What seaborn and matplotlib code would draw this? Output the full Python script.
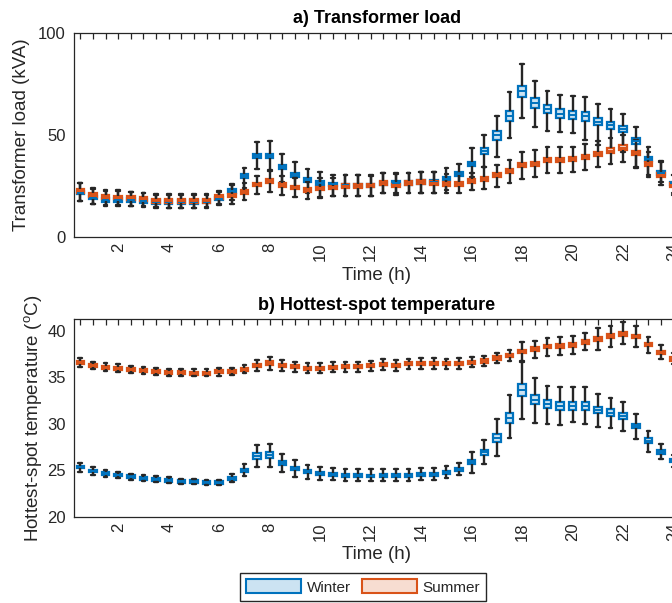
import numpy as np
import pandas as pd
import matplotlib
matplotlib.use("Agg")
import matplotlib.pyplot as plt
from matplotlib.patches import Patch
import seaborn as sns

# Half-hourly time slots (h)
times = [0.5 * k for k in range(1, 49)]

# ---- a) Transformer load (kVA) ----
load_winter_med = [21.8, 19.3, 18.3, 18.0, 18.3, 17.6, 17.2, 17.2, 17.2, 17.2, 17.4, 18.8,
                   22.5, 29.9, 39.8, 39.8, 34.3, 30.6, 28.1, 26.6, 25.8, 25.3, 25.2, 25.2,
                   26.3, 26.6, 26.4, 27.0, 27.0, 28.6, 31.0, 35.9, 42.2, 49.8, 59.5, 71.4,
                   65.5, 62.7, 60.5, 59.8, 59.3, 56.5, 54.8, 52.9, 47.2, 38.4, 31.4, 26.3]
load_winter_q1 = [20.9, 18.4, 17.4, 17.1, 17.4, 16.7, 16.3, 16.3, 16.3, 16.3, 16.5, 17.9,
                  21.5, 28.9, 38.7, 38.7, 33.2, 29.6, 27.1, 25.7, 24.9, 24.4, 24.3, 24.3,
                  25.4, 25.7, 25.5, 26.1, 26.1, 27.7, 30.0, 34.8, 40.6, 47.7, 57.1, 68.8,
                  63.0, 60.7, 58.4, 57.7, 57.1, 54.9, 53.1, 51.4, 45.7, 37.5, 30.4, 25.4]
load_winter_q3 = [22.7, 20.2, 19.2, 18.9, 19.2, 18.5, 18.1, 18.1, 18.1, 18.1, 18.3, 19.7,
                  23.5, 30.9, 40.9, 40.9, 35.4, 31.6, 29.1, 27.5, 26.7, 26.2, 26.1, 26.1,
                  27.2, 27.5, 27.3, 27.9, 27.9, 29.5, 32.0, 37.0, 43.8, 51.9, 61.9, 74.0,
                  68.0, 64.7, 62.6, 61.9, 61.5, 58.1, 56.5, 54.4, 48.7, 39.3, 32.4, 27.2]
load_winter_lo = [17.8, 16.0, 15.3, 15.0, 15.3, 14.8, 14.3, 14.2, 14.3, 14.0, 14.3, 15.5,
                  18.0, 24.0, 33.3, 32.8, 27.1, 23.9, 21.4, 19.8, 20.0, 20.0, 20.0, 20.1,
                  21.4, 21.4, 21.4, 21.8, 21.8, 23.0, 25.5, 29.6, 34.5, 39.4, 48.7, 58.2,
                  54.0, 52.0, 51.6, 50.8, 47.5, 45.0, 43.5, 41.8, 34.5, 30.4, 27.1, 21.5]
load_winter_hi = [26.6, 23.5, 22.5, 22.5, 22.0, 21.5, 20.8, 20.8, 20.8, 20.7, 20.8, 22.5,
                  26.0, 34.0, 46.4, 46.9, 40.8, 36.6, 33.5, 32.0, 30.4, 30.4, 30.4, 30.4,
                  31.2, 31.2, 31.5, 32.0, 32.0, 34.0, 35.8, 43.5, 50.0, 59.5, 71.2, 84.6,
                  76.5, 71.7, 69.6, 69.1, 68.5, 65.0, 62.6, 60.5, 53.8, 44.3, 37.3, 30.5]

load_summer_med = [22.5, 20.6, 19.6, 19.4, 19.1, 18.5, 17.6, 17.6, 17.6, 17.6, 17.8, 19.6,
                   20.3, 22.0, 25.7, 27.5, 25.5, 24.2, 23.2, 23.7, 24.3, 24.9, 25.0, 25.2,
                   26.5, 25.3, 26.6, 27.0, 26.6, 26.1, 26.1, 27.5, 28.4, 30.4, 32.4, 35.1,
                   35.9, 37.6, 37.7, 38.1, 39.4, 40.8, 42.3, 43.8, 41.2, 35.8, 30.2, 25.5]
load_summer_q1 = [21.6, 19.7, 18.7, 18.5, 18.2, 17.6, 16.7, 16.7, 16.7, 16.7, 16.9, 18.7,
                  19.4, 21.1, 24.8, 26.5, 24.6, 23.3, 22.3, 22.8, 23.4, 24.0, 24.1, 24.3,
                  25.6, 24.4, 25.7, 26.1, 25.7, 25.2, 25.2, 26.6, 27.4, 29.4, 31.4, 34.1,
                  34.9, 36.6, 36.7, 37.1, 38.4, 39.8, 41.2, 42.7, 40.2, 34.8, 29.2, 24.6]
load_summer_q3 = [23.4, 21.5, 20.5, 20.3, 20.0, 19.4, 18.5, 18.5, 18.5, 18.5, 18.7, 20.5,
                  21.2, 22.9, 26.6, 28.5, 26.4, 25.1, 24.1, 24.6, 25.2, 25.8, 25.9, 26.1,
                  27.4, 26.2, 27.5, 27.9, 27.5, 27.0, 27.0, 28.4, 29.4, 31.4, 33.4, 36.1,
                  36.9, 38.6, 38.7, 39.1, 40.4, 41.8, 43.4, 44.9, 42.2, 36.8, 31.2, 26.4]
load_summer_lo = [17.8, 16.3, 15.8, 15.5, 15.3, 15.0, 14.5, 14.3, 14.3, 14.2, 14.5, 16.0,
                  16.3, 18.0, 21.0, 21.9, 20.6, 19.6, 18.8, 19.3, 20.0, 20.0, 20.0, 20.3,
                  21.4, 20.6, 21.8, 21.8, 21.8, 21.8, 21.4, 23.0, 23.5, 24.7, 26.3, 28.3,
                  29.2, 31.2, 31.2, 31.7, 32.8, 34.5, 35.8, 36.9, 33.7, 29.6, 25.5, 20.6]
load_summer_hi = [26.6, 23.9, 23.0, 22.8, 22.3, 21.7, 21.0, 21.0, 21.0, 21.0, 21.3, 22.3,
                  25.5, 26.3, 29.9, 32.4, 29.9, 28.8, 27.1, 28.8, 28.8, 30.4, 30.4, 30.1,
                  31.2, 31.0, 31.2, 32.0, 32.0, 30.9, 30.7, 31.2, 34.5, 35.3, 37.7, 41.5,
                  42.6, 44.1, 44.1, 44.3, 45.6, 47.0, 48.4, 50.0, 47.5, 41.8, 36.6, 30.4]

# ---- b) Hottest-spot temperature (degC) ----
temp_winter_med = [25.35, 24.92, 24.67, 24.49, 24.31, 24.13, 24.02, 23.92, 23.81, 23.74, 23.70, 23.66,
                   24.10, 25.00, 26.57, 26.60, 25.78, 25.21, 24.85, 24.67, 24.56, 24.47, 24.42, 24.38,
                   24.45, 24.45, 24.45, 24.56, 24.56, 24.81, 25.10, 25.86, 26.93, 28.48, 30.60, 33.60,
                   32.57, 32.10, 31.92, 31.96, 31.96, 31.50, 31.20, 30.85, 29.77, 28.19, 26.97, 26.00]
temp_winter_q1 = [25.19, 24.76, 24.51, 24.33, 24.15, 23.97, 23.86, 23.76, 23.65, 23.58, 23.54, 23.50,
                  23.94, 24.82, 26.23, 26.27, 25.56, 25.05, 24.69, 24.51, 24.40, 24.31, 24.26, 24.22,
                  24.29, 24.29, 24.29, 24.40, 24.40, 24.65, 24.92, 25.66, 26.63, 28.05, 30.08, 32.94,
                  32.09, 31.67, 31.49, 31.53, 31.53, 31.14, 30.84, 30.54, 29.52, 27.96, 26.79, 25.84]
temp_winter_q3 = [25.51, 25.08, 24.83, 24.65, 24.47, 24.29, 24.18, 24.08, 23.97, 23.90, 23.86, 23.82,
                  24.26, 25.18, 26.91, 26.93, 26.00, 25.37, 25.01, 24.83, 24.72, 24.63, 24.58, 24.54,
                  24.61, 24.61, 24.61, 24.72, 24.72, 24.97, 25.28, 26.06, 27.23, 28.91, 31.12, 34.26,
                  33.05, 32.53, 32.35, 32.39, 32.39, 31.86, 31.56, 31.16, 30.02, 28.42, 27.15, 26.16]
temp_winter_lo = [24.85, 24.50, 24.30, 24.15, 24.00, 23.85, 23.75, 23.65, 23.55, 23.50, 23.45, 23.40,
                  23.72, 24.38, 25.38, 25.38, 24.85, 24.24, 24.10, 23.95, 23.95, 23.85, 23.85, 23.80,
                  23.85, 23.85, 23.85, 23.95, 23.95, 24.20, 24.45, 24.74, 25.68, 26.57, 28.44, 30.52,
                  30.12, 29.95, 29.88, 30.17, 29.95, 29.70, 29.59, 29.23, 28.37, 27.00, 26.20, 25.38]
temp_winter_hi = [25.82, 25.30, 25.05, 24.85, 24.65, 24.45, 24.35, 24.22, 24.10, 24.02, 23.98, 23.95,
                  24.55, 25.64, 27.69, 27.83, 26.75, 26.10, 25.60, 25.40, 25.20, 25.15, 25.10, 25.10,
                  25.10, 25.10, 25.10, 25.20, 25.20, 25.50, 25.80, 27.00, 28.26, 30.49, 33.10, 36.70,
                  34.90, 34.10, 33.94, 33.94, 33.94, 33.20, 32.82, 32.32, 31.03, 29.26, 27.83, 26.65]

temp_summer_med = [36.59, 36.26, 36.09, 36.00, 35.87, 35.76, 35.62, 35.55, 35.50, 35.44, 35.44, 35.62,
                   35.65, 35.87, 36.26, 36.55, 36.30, 36.12, 36.00, 36.00, 36.05, 36.12, 36.15, 36.23,
                   36.37, 36.26, 36.45, 36.50, 36.50, 36.45, 36.50, 36.63, 36.77, 37.06, 37.34, 37.77,
                   38.03, 38.31, 38.38, 38.52, 38.81, 39.14, 39.43, 39.71, 39.39, 38.52, 37.71, 36.98]
temp_summer_q1 = [36.43, 36.10, 35.93, 35.84, 35.71, 35.60, 35.46, 35.39, 35.34, 35.28, 35.28, 35.46,
                  35.49, 35.71, 36.08, 36.35, 36.12, 35.96, 35.84, 35.84, 35.89, 35.96, 35.99, 36.07,
                  36.21, 36.10, 36.29, 36.34, 36.34, 36.29, 36.34, 36.45, 36.59, 36.86, 37.14, 37.57,
                  37.83, 38.11, 38.18, 38.32, 38.61, 38.94, 39.23, 39.49, 39.19, 38.34, 37.53, 36.80]
temp_summer_q3 = [36.75, 36.42, 36.25, 36.16, 36.03, 35.92, 35.78, 35.71, 35.66, 35.60, 35.60, 35.78,
                  35.81, 36.03, 36.44, 36.75, 36.48, 36.28, 36.16, 36.16, 36.21, 36.28, 36.31, 36.39,
                  36.53, 36.42, 36.61, 36.66, 36.66, 36.61, 36.66, 36.81, 36.95, 37.26, 37.54, 37.97,
                  38.23, 38.51, 38.58, 38.72, 39.01, 39.34, 39.63, 39.93, 39.59, 38.70, 37.89, 37.16]
temp_summer_lo = [36.10, 35.85, 35.70, 35.60, 35.50, 35.40, 35.25, 35.20, 35.15, 35.10, 35.10, 35.20,
                  35.25, 35.45, 35.70, 35.80, 35.70, 35.60, 35.50, 35.50, 35.55, 35.60, 35.60, 35.70,
                  35.80, 35.70, 35.90, 35.95, 35.95, 35.90, 35.95, 36.10, 36.25, 36.50, 36.75, 36.80,
                  37.10, 37.30, 37.40, 37.55, 37.95, 37.95, 38.24, 38.60, 38.24, 37.60, 37.00, 36.40]
temp_summer_hi = [37.06, 36.70, 36.50, 36.40, 36.25, 36.15, 36.00, 35.95, 35.90, 35.85, 35.85, 36.05,
                  36.05, 36.35, 36.88, 37.20, 36.88, 36.70, 36.55, 36.55, 36.60, 36.65, 36.70, 36.75,
                  36.95, 36.85, 37.00, 37.05, 37.05, 37.00, 37.05, 37.20, 37.35, 37.65, 37.95, 38.78,
                  38.95, 39.28, 39.35, 39.50, 39.75, 40.30, 40.57, 40.93, 40.57, 39.39, 38.50, 37.60]

seasons = ["Winter", "Summer"]
edge_colors = {"Winter": "#0072BD", "Summer": "#D95319"}
fill_colors = {"Winter": "#CCE3F2", "Summer": "#F7DDD1"}
whisker_color = "#262626"


def five_number_frame(lo, q1, med, q3, hi):
    """Long table with the five summary values of every half-hour slot."""
    rows = []
    for t, a, b, c, d, e in zip(times, lo, q1, med, q3, hi):
        for v in (a, b, c, d, e):
            rows.append({"time": t, "value": v})
    return pd.DataFrame(rows)


panels = [
    {
        "title": "a) Transformer load",
        "ylabel": "Transformer load (kVA)",
        "ylim": (0, 100),
        "yticks": [0, 50, 100],
        "Winter": (load_winter_lo, load_winter_q1, load_winter_med, load_winter_q3, load_winter_hi),
        "Summer": (load_summer_lo, load_summer_q1, load_summer_med, load_summer_q3, load_summer_hi),
    },
    {
        "title": "b) Hottest-spot temperature",
        "ylabel": r"Hottest-spot temperature ($^{\mathrm{o}}$C)",
        "ylim": (20, 41.25),
        "yticks": [20, 25, 30, 35, 40],
        "Winter": (temp_winter_lo, temp_winter_q1, temp_winter_med, temp_winter_q3, temp_winter_hi),
        "Summer": (temp_summer_lo, temp_summer_q1, temp_summer_med, temp_summer_q3, temp_summer_hi),
    },
]

sns.set_theme(style="white")
plt.rcParams["font.family"] = ["Liberation Sans", "DejaVu Sans"]
plt.rcParams["mathtext.fontset"] = "custom"
plt.rcParams["mathtext.rm"] = "Liberation Sans"
plt.rcParams["text.color"] = "#262626"
plt.rcParams["axes.labelcolor"] = "#262626"

W, H = 672, 603
fig = plt.figure(figsize=(W / 100, H / 100), dpi=100)

# axes boxes in pixels: (left, top, right, bottom)
boxes_px = [(74, 33, 680, 237), (74, 319.3, 680, 516.7)]
ylabel_x = [-0.086, -0.066]

for panel, (l, t, r, b), ylx in zip(panels, boxes_px, ylabel_x):
    ax = fig.add_axes([l / W, 1 - b / H, (r - l) / W, (b - t) / H])
    for season in seasons:
        df = five_number_frame(*panel[season])
        sns.boxplot(
            data=df, x="time", y="value", native_scale=True, ax=ax,
            whis=(0, 100), width=0.6, showfliers=False, capwidths=0.15,
            color=fill_colors[season], linecolor=edge_colors[season], linewidth=1.6,
            boxprops=dict(facecolor=fill_colors[season], edgecolor=edge_colors[season], linewidth=1.6),
            medianprops=dict(color=edge_colors[season], linewidth=1.4),
            whiskerprops=dict(color=whisker_color, linewidth=1.7),
            capprops=dict(color=whisker_color, linewidth=1.7),
        )

    ax.set_xlim(0.25, 24.25)
    ax.set_ylim(*panel["ylim"])
    ticks = times
    ax.set_xticks(ticks)
    ax.set_xticklabels([str(int(v)) if v % 2 == 0 else "" for v in ticks], rotation=90)
    ax.set_yticks(panel["yticks"])
    ax.set_yticklabels([str(v) for v in panel["yticks"]])
    ax.tick_params(axis="both", direction="in", length=4.3, width=0.9, color="#262626",
                   top=True, right=True, labelsize=12, labelcolor="#262626")
    ax.tick_params(axis="x", pad=4)
    ax.tick_params(axis="y", pad=6)
    for sp in ax.spines.values():
        sp.set_color("#262626")
        sp.set_linewidth(0.9)

    ax.set_xlabel("Time (h)", fontsize=13.5, va="center")
    ax.xaxis.set_label_coords(0.5, -0.19)
    ax.set_ylabel(panel["ylabel"], fontsize=13.5, va="center")
    ax.yaxis.set_label_coords(ylx, 0.5)
    ax.set_title(panel["title"], fontsize=13, fontweight="bold", pad=7, color="black")
    ax.grid(False)

handles = [Patch(facecolor=fill_colors[s], edgecolor=edge_colors[s], linewidth=1.5, label=s)
           for s in seasons]
fig.legend(handles=handles, loc="center", bbox_to_anchor=(363 / W, 1 - 587 / H), ncol=2,
           fontsize=11, frameon=True, fancybox=False, edgecolor="#262626", framealpha=1,
           handlelength=3.6, handleheight=1.0, handletextpad=0.35, columnspacing=0.7,
           borderpad=0.4)

fig.savefig("out.png", dpi=100)
